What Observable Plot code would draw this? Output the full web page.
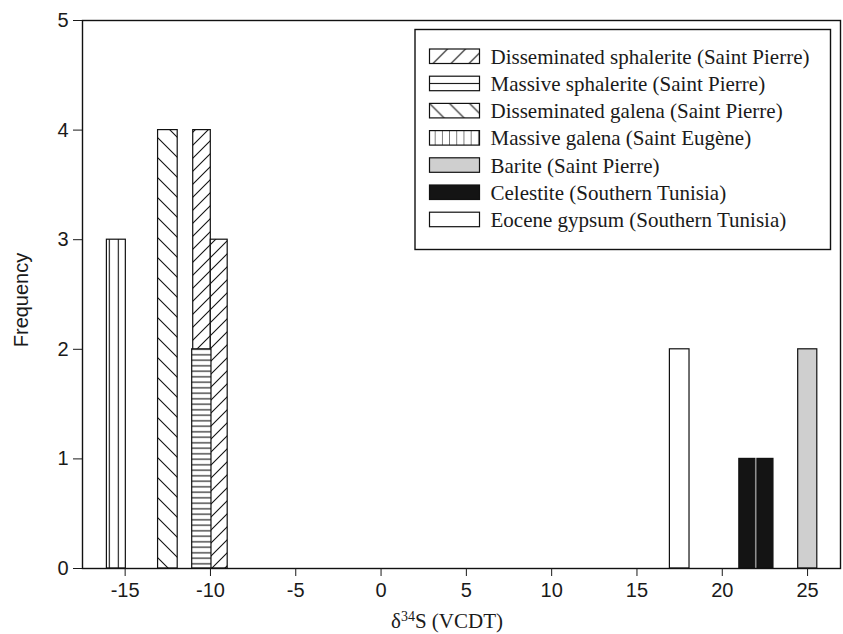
<!DOCTYPE html>
<html>
<head>
<meta charset="utf-8">
<script src="https://cdn.jsdelivr.net/npm/d3@7"></script>
<script src="https://cdn.jsdelivr.net/npm/@observablehq/plot@0.6"></script>
<style>
  html, body { margin: 0; padding: 0; background: #fff; }
  #chart svg { display: block; }
</style>
</head>
<body>
<div id="chart"></div>
<script>
// ---- data ----
const seriesNames = [
  "Disseminated sphalerite (Saint Pierre)",
  "Massive sphalerite (Saint Pierre)",
  "Disseminated galena (Saint Pierre)",
  "Massive galena (Saint Eugène)",
  "Barite (Saint Pierre)",
  "Celestite (Southern Tunisia)",
  "Eocene gypsum (Southern Tunisia)"
];
// one entry per histogram bar
const barSeries = [0, 0, 1, 2, 3, 4, 5, 5, 6];
const binStart  = [-11.01, -9.98, -11.07, -13.07, -16.07, 24.45, 21.0, 22.06, 16.93];
const binEnd    = [-9.98, -8.99, -9.94, -11.92, -14.96, 25.57, 21.94, 23.0, 18.08];
const frequency = [4, 3, 2, 4, 3, 2, 1, 1, 2];
const xTicks = [-15, -10, -5, 0, 5, 10, 15, 20, 25];
const yTicks = [0, 1, 2, 3, 4, 5];

const bars = barSeries.map((s, i) => ({series: s, x1: binStart[i], x2: binEnd[i], freq: frequency[i]}));
const fills = ["url(#pSphDiss)", "url(#pSphMass)", "url(#pGalDiss)", "url(#pGalMass)", "#cfcfcf", "#141414", "#ffffff"];

const W = 843, H = 634;
const chart = Plot.plot({
  width: W, height: H,
  marginLeft: 82, marginRight: 3, marginTop: 20, marginBottom: 66,
  x: {domain: [-17.5, 26.93]},
  y: {domain: [0, 5]},
  style: {fontFamily: "'Liberation Sans', Arial, sans-serif", fontSize: "20px", color: "#1a1a1a", background: "white", overflow: "visible"},
  marks: [
    ...seriesNames.map((name, i) => Plot.rect(bars.filter(b => b.series === i), {
      x1: "x1", x2: "x2", y1: () => 0, y2: "freq",
      fill: fills[i], stroke: "#111", strokeWidth: 1.2
    })),
    Plot.frame({stroke: "#111", strokeWidth: 1.4}),
    Plot.axisX({ticks: xTicks, tickSize: 8, tickPadding: 6, tickFormat: d => String(d), label: null, fontSize: 20}),
    Plot.axisY({ticks: yTicks, tickSize: 9, tickPadding: 5, tickFormat: d => String(d), label: null, fontSize: 20})
  ]
});
document.getElementById("chart").appendChild(chart);

const svg = d3.select(chart);
const defs = svg.insert("defs", ":first-child");

function hatch(id, w, h, d, x = 0, y = 0) {
  const p = defs.append("pattern").attr("id", id).attr("patternUnits", "userSpaceOnUse")
    .attr("width", w).attr("height", h).attr("x", x).attr("y", y);
  p.append("rect").attr("width", w).attr("height", h).attr("fill", "#fff");
  p.append("path").attr("d", d).attr("stroke", "#111").attr("stroke-width", 1.1).attr("fill", "none");
}
// bar patterns
hatch("pSphDiss", 13, 13, "M0,13L13,0M-3.25,3.25L3.25,-3.25M9.75,16.25L16.25,9.75");
hatch("pSphMass", 8, 5.5, "M0,2.75H8");
hatch("pGalDiss", 20, 20, "M0,0L20,20M-5,15L5,25M15,-5L25,5");
hatch("pGalMass", 9, 8, "M4.5,0V8", 1.3 - 4.5, 0);

// ---- legend ----
const lg = {x: 415, y: 29.5, w: 415.5, h: 220, sx: 429.5, sw: 50, sh: 14.5, top: 49, step: 27.2, tx: 490.5};
const legendPatterns = [
  ["lSphDiss", 18, 18, "M0,18L18,0M-4.5,4.5L4.5,-4.5M13.5,22.5L22.5,13.5"],
  ["lSphMass", 10, 14.5, "M0,7.25H10"],
  ["lGalDiss", 20, 20, "M0,0L20,20M-5,15L5,25M15,-5L25,5"],
  ["lGalMass", 7.2, 10, "M0,0V10"]
];
legendPatterns.forEach(([id, w, h, d], i) => {
  hatch(id, w, h, d, lg.sx + (i === 3 ? 5.2 : 0), lg.top + i * lg.step);
});
const legendFills = ["url(#lSphDiss)", "url(#lSphMass)", "url(#lGalDiss)", "url(#lGalMass)", "#cfcfcf", "#141414", "#ffffff"];
const g = svg.append("g").attr("text-anchor", "start");
g.append("rect").attr("x", lg.x).attr("y", lg.y).attr("width", lg.w).attr("height", lg.h)
  .attr("fill", "#fff").attr("stroke", "#111").attr("stroke-width", 1.4);
seriesNames.forEach((name, i) => {
  const y0 = lg.top + i * lg.step;
  g.append("rect").attr("x", lg.sx).attr("y", y0).attr("width", lg.sw).attr("height", lg.sh)
    .attr("fill", legendFills[i]).attr("stroke", "#111").attr("stroke-width", 1.2);
  g.append("text").attr("x", lg.tx).attr("y", y0 + 14.8).attr("text-anchor", "start")
    .attr("font-family", "'Liberation Serif', 'Times New Roman', serif").attr("font-size", 21)
    .attr("fill", "#1a1a1a").text(name);
});

// ---- axis titles ----
const xt = svg.append("text").attr("x", 447).attr("y", 628).attr("text-anchor", "middle")
  .attr("font-family", "'Liberation Serif', 'Times New Roman', serif").attr("font-size", 21).attr("fill", "#1a1a1a");
xt.append("tspan").text("δ");
xt.append("tspan").attr("font-size", 14).attr("dy", -7).text("34");
xt.append("tspan").attr("dy", 7).text("S (VCDT)");

svg.append("text").attr("transform", "translate(28,300) rotate(-90)").attr("text-anchor", "middle")
  .attr("font-family", "'Liberation Sans', Arial, sans-serif").attr("font-size", 20).attr("fill", "#1a1a1a")
  .text("Frequency");
</script>
</body>
</html>
